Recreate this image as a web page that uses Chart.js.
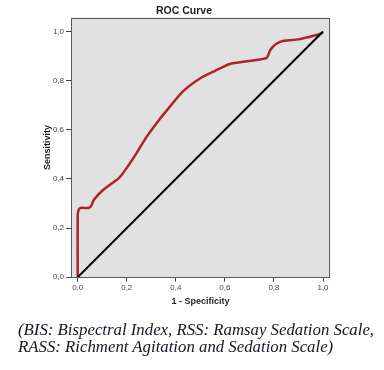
<!DOCTYPE html>
<html>
<head>
<meta charset="utf-8">
<script src="https://cdn.jsdelivr.net/npm/chart.js@4/dist/chart.umd.min.js"></script>
<style>
  html, body { margin: 0; padding: 0; background: #ffffff; }
  #wrap { position: relative; width: 384px; height: 370px; overflow: hidden; }
  #c { position: absolute; left: 0; top: 0; }
  #caption {
    position: absolute; left: 18px; top: 322px;
    font-family: "Liberation Serif", "DejaVu Serif", serif;
    font-style: italic; font-size: 16.8px; line-height: 16.5px;
    color: #15152a; white-space: nowrap;
  }
</style>
</head>
<body>
<div id="wrap">
  <canvas id="c" width="384" height="370"></canvas>
  <div id="caption">(BIS: Bispectral Index, RSS: Ramsay Sedation Scale,<br>RASS: Richment Agitation and Sedation Scale)</div>
</div>
<script>
// ROC curve
const rocX = [0, 0.0, 0.004, 0.012, 0.045, 0.055, 0.066, 0.1, 0.15, 0.17, 0.2, 0.24, 0.28, 0.32, 0.36, 0.43, 0.5, 0.56, 0.62, 0.7, 0.77, 0.785, 0.81, 0.84, 0.9, 0.93, 0.97, 1.0];
const rocY = [0, 0.25, 0.275, 0.282, 0.282, 0.29, 0.315, 0.352, 0.39, 0.405, 0.445, 0.505, 0.57, 0.625, 0.675, 0.757, 0.81, 0.84, 0.868, 0.88, 0.893, 0.925, 0.95, 0.962, 0.968, 0.975, 0.985, 0.995];
// reference (chance) line
const refX = [0, 1];
const refY = [0, 1];
// tick labels
const xTicks = [0, 0.2, 0.4, 0.6, 0.8, 1.0];
const yTicks = [0, 0.2, 0.4, 0.6, 0.8, 1.0];
const chartTitle = "ROC Curve";
const xTitle = "1 - Specificity";
const yTitle = "Sensitivity";

const toPts = (xs, ys) => xs.map((x, i) => ({x: x, y: ys[i]}));
const fmt = v => Number(v).toFixed(1).replace('.', ',');

const boxPlugin = {
  id: 'box',
  beforeDatasetsDraw(chart) {
    const {ctx, chartArea: a} = chart;
    ctx.save();
    ctx.fillStyle = '#e1e1e1';
    ctx.fillRect(a.left, a.top, a.right - a.left, a.bottom - a.top);
    ctx.restore();
  },
  afterDatasetsDraw(chart) {
    const {ctx, chartArea: a} = chart;
    ctx.save();
    ctx.strokeStyle = '#5a5a5a';
    ctx.lineWidth = 1;
    ctx.strokeRect(Math.round(a.left) + 0.5, Math.round(a.top) + 0.5,
                   Math.round(a.right - a.left) - 1, Math.round(a.bottom - a.top) - 1);
    ctx.restore();
  }
};

const tickFont = {family: "'Liberation Sans', Arial, sans-serif", size: 8};
const titleFont = {family: "'Liberation Sans', Arial, sans-serif", size: 9, weight: 'bold'};

new Chart(document.getElementById('c'), {
  type: 'scatter',
  data: {
    datasets: [
      {
        data: toPts(refX, refY),
        showLine: true, borderColor: '#000000', borderWidth: 2,
        pointRadius: 0, clip: 4
      },
      {
        data: toPts(rocX, rocY),
        showLine: true, borderColor: '#b0232a', borderWidth: 2.5,
        pointRadius: 0, tension: 0.2, clip: 4
      }
    ]
  },
  options: {
    responsive: false,
    animation: false,
    layout: {padding: {left: 38, right: 54, top: 0, bottom: 60.9}},
    plugins: {
      legend: {display: false},
      tooltip: {enabled: false},
      title: {
        display: true, text: chartTitle, color: '#1e1e1e',
        font: {family: "'Liberation Sans', Arial, sans-serif", size: 10.5, weight: 'bold'},
        padding: {top: 4.4, bottom: 0.5}
      }
    },
    scales: {
      x: {
        type: 'linear', position: 'bottom', min: -0.0273, max: 1.0285,
        afterBuildTicks: s => { s.ticks = xTicks.map(v => ({value: v})); },
        afterFit: s => { s.height = 31.4; },
        ticks: {callback: fmt, font: tickFont, color: '#444', padding: 1, maxRotation: 0, autoSkip: false},
        grid: {drawOnChartArea: false, drawTicks: true, tickLength: 4, color: '#444'},
        border: {display: false},
        title: {display: true, text: xTitle, color: '#1e1e1e', font: titleFont, padding: {top: 0, bottom: 2}}
      },
      y: {
        type: 'linear', position: 'left', min: -0.002, max: 1.057,
        afterBuildTicks: s => { s.ticks = yTicks.map(v => ({value: v})); },
        afterFit: s => { s.width = 33; },
        ticks: {callback: fmt, font: tickFont, color: '#444', padding: 2, autoSkip: false},
        grid: {drawOnChartArea: false, drawTicks: true, tickLength: 5, color: '#444'},
        border: {display: false},
        title: {display: true, text: yTitle, color: '#1e1e1e', font: titleFont, padding: {top: 4, bottom: 0}}
      }
    }
  },
  plugins: [boxPlugin]
});
</script>
</body>
</html>
